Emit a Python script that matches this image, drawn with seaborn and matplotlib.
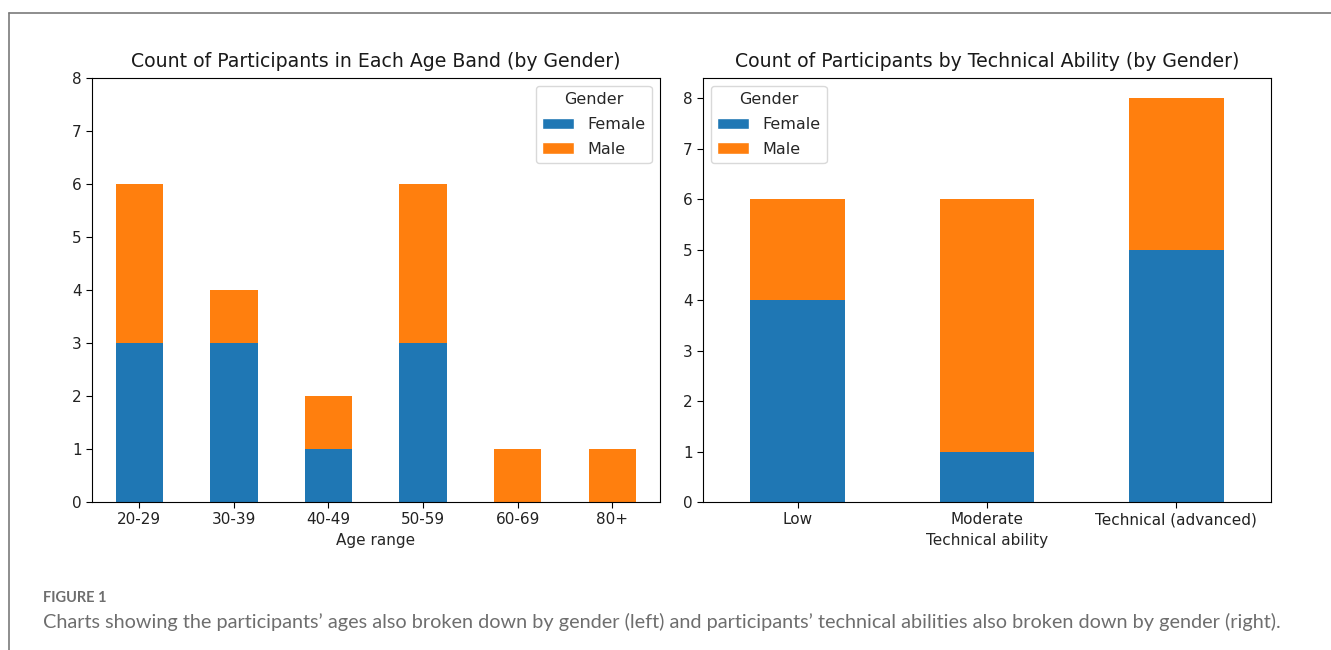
import matplotlib
matplotlib.use("Agg")
import matplotlib.pyplot as plt
from matplotlib.patches import Patch
from matplotlib.lines import Line2D
import seaborn as sns
import pandas as pd

# Participant counts by age band
age_bands = ["20-29", "30-39", "40-49", "50-59", "60-69", "80+"]
age_female = [3, 3, 1, 3, 0, 0]
age_male = [3, 1, 1, 3, 1, 1]

# Participant counts by technical ability
ability_levels = ["Low", "Moderate", "Technical (advanced)"]
ability_female = [4, 1, 5]
ability_male = [2, 5, 3]

genders = ["Female", "Male"]
colors = {"Female": "#1f77b4", "Male": "#ff7f0e"}

sns.set_style("ticks")
plt.rcParams["font.family"] = ["DejaVu Sans"]
plt.rcParams["axes.edgecolor"] = "black"
plt.rcParams["axes.linewidth"] = 0.8

fig = plt.figure(figsize=(13.31, 6.5), dpi=100)
ax1 = fig.add_axes([92 / 1331, 1 - 502 / 650, (659.5 - 92) / 1331, 424 / 650])
ax2 = fig.add_axes([703 / 1331, 1 - 502 / 650, (1271 - 703) / 1331, 424 / 650])


def stacked(ax, cats, female, male, xlabel, title, ylim, legend_loc):
    df = pd.DataFrame({"cat": cats, "Female": female, "Male": male})
    df["Total"] = df["Female"] + df["Male"]
    # male segment sits on top of female: draw totals, then overlay female
    sns.barplot(data=df, x="cat", y="Total", color=colors["Male"], width=0.5,
                saturation=1, ax=ax, order=cats)
    sns.barplot(data=df, x="cat", y="Female", color=colors["Female"], width=0.5,
                saturation=1, ax=ax, order=cats)
    for p in ax.patches:
        p.set_edgecolor("none")
    ax.set_xlim(-0.5, len(cats) - 0.5)
    ax.set_ylim(*ylim)
    ax.set_xlabel(xlabel, fontsize=11)
    ax.set_ylabel("")
    ax.set_title(title, fontsize=13.6, pad=8, color="#1a1a1a")
    ax.tick_params(axis="both", labelsize=11, length=4, width=0.8, colors="black")
    ax.tick_params(axis="both", labelcolor="#222222")
    for s in ax.spines.values():
        s.set_visible(True)
        s.set_color("black")
        s.set_linewidth(0.8)
    handles = [Patch(facecolor=colors[g], label=g) for g in genders]
    leg = ax.legend(handles=handles, title="Gender", loc=legend_loc, fontsize=11.5,
                    title_fontsize=11.5, frameon=True, fancybox=True,
                    handlelength=2.0, borderpad=0.4, labelspacing=0.6)
    leg.get_frame().set_edgecolor("#d0d0d0")


stacked(ax1, age_bands, age_female, age_male, "Age range",
        "Count of Participants in Each Age Band (by Gender)", (0, 8), "upper right")
ax1.set_yticks(range(0, 9))
stacked(ax2, ability_levels, ability_female, ability_male, "Technical ability",
        "Count of Participants by Technical Ability (by Gender)", (0, 8.4), "upper left")
ax2.set_yticks(range(0, 9))

# Surrounding frame lines
fig.add_artist(Line2D([9 / 1331, 1.0], [1 - 13 / 650, 1 - 13 / 650],
                      color="#7a7a7a", lw=1.2, transform=fig.transFigure))
fig.add_artist(Line2D([9 / 1331, 9 / 1331], [0, 1 - 13 / 650],
                      color="#7a7a7a", lw=1.2, transform=fig.transFigure))

# Caption
fig.text(43 / 1331, 1 - 598 / 650, "FIGURE 1", fontsize=10.5, color="#6e6e6e",
         family=["Lato", "DejaVu Sans"], fontweight="bold", va="center", ha="left")
fig.text(43 / 1331, 1 - 622 / 650,
         "Charts showing the participants\u2019 ages also broken down by gender (left) and "
         "participants\u2019 technical abilities also broken down by gender (right).",
         fontsize=14.3, color="#6e6e6e", family=["Lato", "DejaVu Sans"],
         va="center", ha="left")

fig.savefig("out.png", dpi=100, facecolor="white")
